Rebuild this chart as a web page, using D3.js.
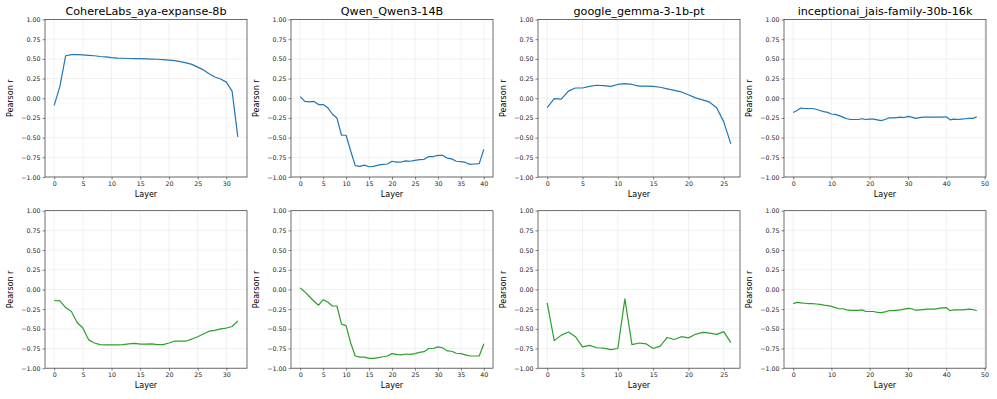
<!DOCTYPE html>
<html>
<head>
<meta charset="utf-8">
<script src="https://cdn.jsdelivr.net/npm/d3@7"></script>
<style>
  body { margin: 0; background: #fff; }
  svg { display: block; font-family: "DejaVu Sans", sans-serif; }
  .grid line { stroke: #b0b0b0; stroke-opacity: 0.3; stroke-width: 0.6; }
  .tick text { fill: #222; }
</style>
</head>
<body>
<svg id="canvas" width="997" height="399"></svg>
<script>
"use strict"

const models = ["CohereLabs_aya-expanse-8b", "Qwen_Qwen3-14B", "google_gemma-3-1b-pt", "inceptionai_jais-family-30b-16k"]

const ayaTop = [-0.09, 0.15, 0.54, 0.555, 0.555, 0.55, 0.545, 0.54, 0.53, 0.525, 0.515, 0.51, 0.508, 0.505, 0.503, 0.502, 0.50, 0.498, 0.495, 0.49, 0.485, 0.478, 0.465, 0.45, 0.43, 0.395, 0.36, 0.31, 0.27, 0.245, 0.205, 0.09, -0.49]
const qwenTop = [0.02, -0.04, -0.045, -0.04, -0.08, -0.08, -0.12, -0.2, -0.25, -0.47, -0.47, -0.67, -0.855, -0.865, -0.85, -0.87, -0.865, -0.85, -0.84, -0.835, -0.8, -0.81, -0.81, -0.795, -0.8, -0.79, -0.78, -0.775, -0.74, -0.74, -0.725, -0.725, -0.76, -0.77, -0.8, -0.805, -0.815, -0.84, -0.835, -0.83, -0.65]
const gemmaTop = [-0.12, -0.005, -0.01, 0.09, 0.13, 0.13, 0.15, 0.165, 0.16, 0.15, 0.175, 0.185, 0.175, 0.155, 0.155, 0.15, 0.14, 0.12, 0.10, 0.08, 0.045, 0.005, -0.02, -0.05, -0.12, -0.3, -0.58]
const jaisTop = [-0.18, -0.155, -0.125, -0.13, -0.13, -0.13, -0.14, -0.155, -0.17, -0.18, -0.2, -0.205, -0.22, -0.24, -0.26, -0.27, -0.27, -0.27, -0.26, -0.27, -0.265, -0.265, -0.275, -0.285, -0.27, -0.25, -0.25, -0.245, -0.24, -0.245, -0.23, -0.24, -0.255, -0.245, -0.24, -0.24, -0.24, -0.24, -0.24, -0.24, -0.235, -0.275, -0.265, -0.27, -0.265, -0.26, -0.255, -0.255, -0.235]

const ayaBottom = [-0.14, -0.145, -0.23, -0.28, -0.42, -0.49, -0.64, -0.68, -0.7, -0.705, -0.705, -0.705, -0.7, -0.69, -0.685, -0.695, -0.695, -0.69, -0.7, -0.7, -0.68, -0.655, -0.655, -0.655, -0.63, -0.6, -0.565, -0.53, -0.52, -0.5, -0.49, -0.47, -0.4]
const qwenBottom = [0.02, -0.03, -0.09, -0.15, -0.2, -0.13, -0.16, -0.21, -0.21, -0.44, -0.46, -0.68, -0.845, -0.86, -0.86, -0.875, -0.875, -0.865, -0.855, -0.845, -0.815, -0.825, -0.83, -0.82, -0.825, -0.815, -0.8, -0.79, -0.75, -0.75, -0.73, -0.74, -0.78, -0.785, -0.81, -0.815, -0.83, -0.845, -0.845, -0.845, -0.69]
const gemmaBottom = [-0.17, -0.65, -0.58, -0.54, -0.6, -0.73, -0.71, -0.74, -0.745, -0.765, -0.75, -0.12, -0.7, -0.68, -0.69, -0.75, -0.72, -0.61, -0.635, -0.6, -0.615, -0.57, -0.545, -0.555, -0.57, -0.535, -0.675]
const jaisBottom = [-0.18, -0.165, -0.17, -0.175, -0.18, -0.18, -0.185, -0.19, -0.2, -0.205, -0.215, -0.23, -0.245, -0.245, -0.26, -0.265, -0.265, -0.265, -0.26, -0.28, -0.28, -0.28, -0.29, -0.295, -0.285, -0.27, -0.27, -0.265, -0.26, -0.25, -0.24, -0.245, -0.265, -0.26, -0.255, -0.25, -0.25, -0.25, -0.24, -0.235, -0.23, -0.27, -0.26, -0.26, -0.26, -0.255, -0.25, -0.255, -0.27]

const yTicks = [-1, -0.75, -0.5, -0.25, 0, 0.25, 0.5, 0.75, 1]
const xTickStep = [5, 5, 5, 10]

const rows = [
  {series: [ayaTop, qwenTop, gemmaTop, jaisTop], color: "#1f77b4", titles: true},
  {series: [ayaBottom, qwenBottom, gemmaBottom, jaisBottom], color: "#2ca02c", titles: false},
]

const lefts = [45, 291, 538, 784]
const tops = [19.5, 210.7]
const pw = 202
const ph = 157.5

const svg = d3.select("#canvas")
const fmtY = v => d3.format(".2f")(v).replace("-", "\u2212")

rows.forEach((row, ri) => {
  row.series.forEach((vals, ci) => {
    const n = vals.length - 1
    const pad = n * 0.05
    const x = d3.scaleLinear().domain([-pad, n + pad]).range([0, pw])
    const y = d3.scaleLinear().domain([-1, 1]).range([ph, 0])
    const xt = d3.range(0, n + pad + 0.001, xTickStep[ci])

    const g = svg.append("g").attr("transform", `translate(${lefts[ci]},${tops[ri]})`)

    // grid
    const grid = g.append("g").attr("class", "grid")
    grid.selectAll(".gx").data(xt).enter().append("line")
      .attr("x1", d => x(d)).attr("x2", d => x(d)).attr("y1", 0).attr("y2", ph)
    grid.selectAll(".gy").data(yTicks).enter().append("line")
      .attr("x1", 0).attr("x2", pw).attr("y1", d => y(d)).attr("y2", d => y(d))

    const line = d3.line().x((d, i) => x(i)).y(d => y(d))
    g.append("path").datum(vals)
      .attr("d", line)
      .attr("fill", "none")
      .attr("stroke", row.color)
      .attr("stroke-width", 1.2)
      .attr("stroke-linejoin", "round")

    const xAxis = g.append("g").attr("transform", `translate(0,${ph})`)
      .call(d3.axisBottom(x).tickValues(xt).tickFormat(d3.format("d")).tickSize(2.5).tickPadding(2))
    const yAxis = g.append("g")
      .call(d3.axisLeft(y).tickValues(yTicks).tickFormat(fmtY).tickSize(2.5).tickPadding(2))
    ;[xAxis, yAxis].forEach(a => {
      a.selectAll("text").attr("font-size", 6.3).attr("font-family", "DejaVu Sans")
      a.selectAll("line").attr("stroke", "#333").attr("stroke-width", 0.6)
      a.select(".domain").remove()
    })

    g.append("rect").attr("width", pw).attr("height", ph)
      .attr("fill", "none").attr("stroke", "#333").attr("stroke-width", 0.7)

    g.append("text")
      .attr("x", pw / 2).attr("y", ph + 19.5)
      .attr("text-anchor", "middle").attr("font-size", 8)
      .text("Layer")

    g.append("text")
      .attr("transform", `translate(-32,${ph / 2}) rotate(-90)`)
      .attr("text-anchor", "middle").attr("font-size", 8)
      .text("Pearson r")

    if (row.titles) {
      g.append("text")
        .attr("x", pw / 2).attr("y", -5)
        .attr("text-anchor", "middle").attr("font-size", 11.2)
        .text(models[ci])
    }
  })
})
</script>
</body>
</html>
